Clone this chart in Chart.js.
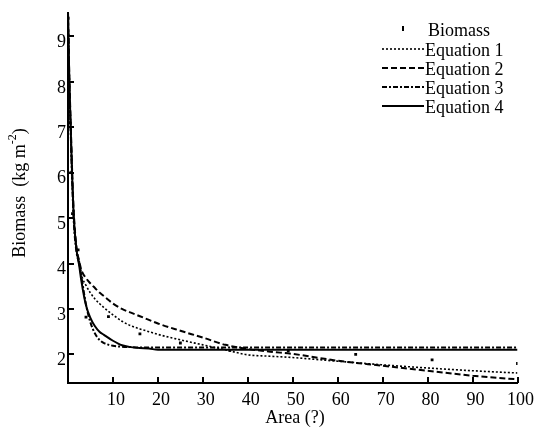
<!DOCTYPE html>
<html>
<head>
<meta charset="utf-8">
<script src="https://cdn.jsdelivr.net/npm/chart.js@4"></script>
<style>
  body { margin: 0; background: #fff; }
  #myChart { display: block; }
</style>
</head>
<body>
<canvas id="myChart" width="537" height="428"></canvas>
<script>
// area values where the fitted curves are sampled
const areaFit = [0, 0.3, 0.6, 0.9, 1.3, 1.9, 2.5, 3, 4, 5, 6, 7, 8, 10, 12, 14, 16, 18, 20, 25, 30, 35, 40, 45, 50, 60, 70, 80, 90, 100];

const eq1 = [9.5, 8.0, 7.0, 6.0, 5.0, 4.3, 4.05, 3.75, 3.52, 3.35, 3.22, 3.12, 3.03, 2.87, 2.73, 2.63, 2.56, 2.5, 2.44, 2.32, 2.21, 2.1, 1.99, 1.96, 1.93, 1.85, 1.77, 1.7, 1.64, 1.59];
const eq2 = [9.55, 8.1, 7.1, 6.1, 5.1, 4.35, 4.05, 3.85, 3.68, 3.56, 3.46, 3.36, 3.28, 3.12, 3.0, 2.92, 2.84, 2.76, 2.68, 2.52, 2.37, 2.21, 2.12, 2.06, 2.01, 1.86, 1.75, 1.64, 1.53, 1.45];
const eq3 = [9.45, 7.9, 6.9, 5.9, 4.9, 4.25, 4.0, 3.7, 3.1, 2.7, 2.46, 2.32, 2.25, 2.19, 2.17, 2.16, 2.15, 2.15, 2.15, 2.15, 2.15, 2.15, 2.15, 2.15, 2.15, 2.15, 2.15, 2.15, 2.15, 2.15];
const eq4 = [9.5, 8.0, 7.0, 6.0, 5.0, 4.3, 3.95, 3.6, 3.08, 2.8, 2.62, 2.5, 2.43, 2.3, 2.2, 2.16, 2.14, 2.13, 2.1, 2.1, 2.1, 2.1, 2.1, 2.1, 2.1, 2.1, 2.1, 2.1, 2.1, 2.1];

// measured biomass
const areaObs = [0.04, 0.25, 0.64, 1, 2.25, 4, 9, 16, 25, 36, 49, 64, 81, 100];
const biomassObs = [9.4, 7.1, 6.0, 5.1, 4.3, 2.82, 2.83, 2.45, 2.25, 2.09, 2.08, 2.0, 1.88, 1.8];

const xTicks = [10, 20, 30, 40, 50, 60, 70, 80, 90, 100];
const yTicks = [2, 3, 4, 5, 6, 7, 8, 9];

const FONT = "Liberation Serif";

function pts(xs, ys) {
  return xs.map((x, i) => ({ x: x, y: ys[i] }));
}

function lineSet(label, ys, dash, width) {
  return {
    label: label,
    data: pts(areaFit, ys),
    borderColor: "#000",
    borderWidth: width,
    borderDash: dash,
    pointRadius: 0,
    fill: false,
    cubicInterpolationMode: "monotone",
  };
}

// inward ticks, axis titles and the legend
const extras = {
  id: "extras",
  afterDraw(chart) {
    const { ctx, chartArea, scales } = chart;
    const x = scales.x, y = scales.y;
    ctx.save();
    ctx.strokeStyle = "#000";
    ctx.lineWidth = 2;
    yTicks.forEach((v) => {
      const py = Math.round(y.getPixelForValue(v));
      ctx.beginPath();
      ctx.moveTo(chartArea.left, py);
      ctx.lineTo(chartArea.left + 6, py);
      ctx.stroke();
    });
    xTicks.forEach((v) => {
      const px = Math.round(x.getPixelForValue(v));
      ctx.beginPath();
      ctx.moveTo(px, chartArea.bottom);
      ctx.lineTo(px, chartArea.bottom - 6);
      ctx.stroke();
    });

    ctx.fillStyle = "#000";
    ctx.textBaseline = "middle";

    // x title
    ctx.font = "18px " + FONT;
    ctx.textAlign = "center";
    ctx.fillText("Area (?)", 295, 418);

    // y title with superscript
    ctx.save();
    ctx.translate(20, 193);
    ctx.rotate(-Math.PI / 2);
    ctx.textAlign = "left";
    const a = "Biomass  (kg m", sup = "-2", b = ")";
    ctx.font = "18px " + FONT;
    const wa = ctx.measureText(a).width, wb = ctx.measureText(b).width;
    ctx.font = "12px " + FONT;
    const ws = ctx.measureText(sup).width;
    let sx = -(wa + ws + wb) / 2;
    ctx.font = "18px " + FONT;
    ctx.fillText(a, sx, 0);
    ctx.font = "12px " + FONT;
    ctx.fillText(sup, sx + wa, -7);
    ctx.font = "18px " + FONT;
    ctx.fillText(b, sx + wa + ws, 0);
    ctx.restore();

    // legend
    ctx.font = "18px " + FONT;
    ctx.textAlign = "left";
    ctx.fillRect(402, 26, 2, 5);
    ctx.fillText("Biomass", 428, 31);
    const rows = chart.data.datasets.slice(1);
    rows.forEach((ds, i) => {
      const ty = 51 + i * 19;
      ctx.setLineDash(ds.borderDash);
      ctx.lineWidth = ds.borderWidth;
      ctx.beginPath();
      ctx.moveTo(382, ty - 2);
      ctx.lineTo(424, ty - 2);
      ctx.stroke();
      ctx.setLineDash([]);
      ctx.fillText(ds.label, 425, ty);
    });
    ctx.restore();
  },
};

const ctx = document.getElementById("myChart").getContext("2d");
const myChart = new Chart(ctx, {
  type: "line",
  data: {
    datasets: [
      {
        label: "Biomass",
        type: "scatter",
        data: pts(areaObs, biomassObs),
        showLine: false,
        pointStyle: "rect",
        pointRadius: 2,
        backgroundColor: "#000",
        borderColor: "#000",
        borderWidth: 0,
      },
      lineSet("Equation 1", eq1, [2, 2], 1.6),
      lineSet("Equation 2", eq2, [6, 3], 2),
      lineSet("Equation 3", eq3, [5, 2, 2, 2], 2),
      lineSet("Equation 4", eq4, [], 2),
    ],
  },
  options: {
    responsive: false,
    devicePixelRatio: 1,
    animation: false,
    layout: {
      padding: { top: 8, right: 19, left: 0, bottom: 0 },
    },
    plugins: {
      legend: { display: false },
      tooltip: { enabled: false },
    },
    scales: {
      x: {
        type: "linear",
        min: 0,
        max: 100,
        afterBuildTicks: (scale) => {
          scale.ticks = xTicks.map((v) => ({ value: v }));
        },
        afterFit: (scale) => {
          scale.height = 45;
        },
        grid: { display: false, drawTicks: false },
        border: { display: true, color: "#000", width: 2 },
        ticks: {
          color: "#000",
          font: { family: FONT, size: 18 },
          padding: 6,
          labelOffset: 3,
          maxRotation: 0,
          autoSkip: false,
        },
      },
      y: {
        type: "linear",
        min: 1.37,
        max: 9.52,
        afterBuildTicks: (scale) => {
          scale.ticks = yTicks.map((v) => ({ value: v }));
        },
        afterFit: (scale) => {
          scale.width = 68;
        },
        grid: { display: false, drawTicks: false },
        border: { display: true, color: "#000", width: 2 },
        ticks: {
          color: "#000",
          font: { family: FONT, size: 18 },
          padding: 2,
          labelOffset: 6,
          autoSkip: false,
        },
      },
    },
  },
  plugins: [extras],
});
</script>
</body>
</html>
